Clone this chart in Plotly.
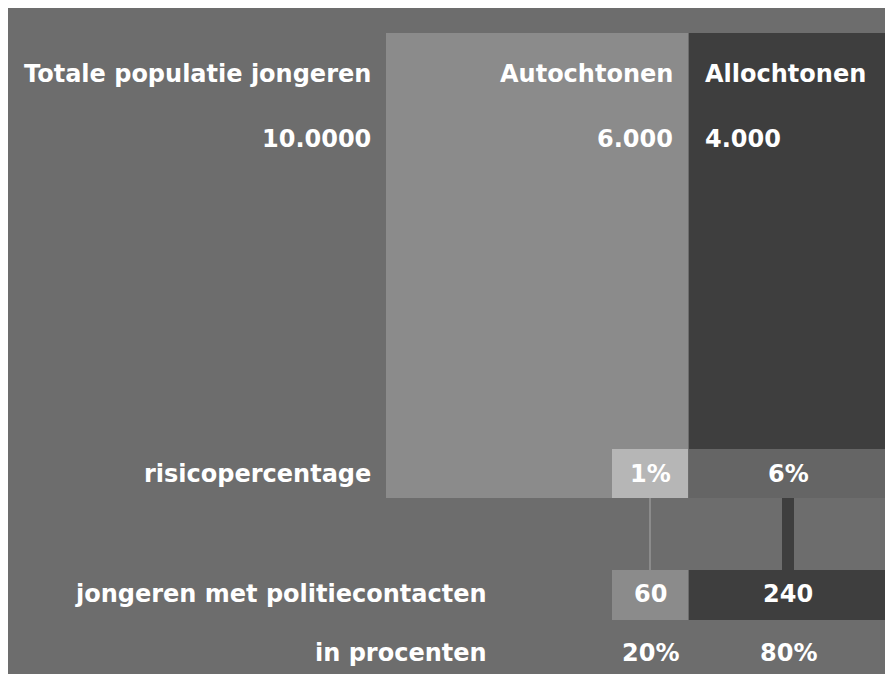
import plotly.graph_objects as go

groups = ["Autochtonen", "Allochtonen"]
population = [6000, 4000]
total_label = "10.0000"
risk_pct = [1, 6]
contacts = [60, 240]
contact_share = [20, 80]

row_labels = ["Totale populatie jongeren", "risicopercentage",
              "jongeren met politiecontacten", "in procenten"]

BG = "#6d6d6d"
LIGHT = "#8b8b8b"
DARK = "#3e3e3e"
PALE = "#b6b6b6"
MID = "#656565"
FONT = dict(family="DejaVu Sans, sans-serif", size=24, color="white", weight="bold")

# the page adds an 8px body margin, so the figure starts at screen (8, 8)
OFF = 8
W, H = 893 - OFF, 674 - OFF
X0_PX = 386          # screen pixel where population axis starts
PX_PER_UNIT = 503 / sum(population)


def ux(px):
    # screen pixel -> population units on x axis
    return (px - X0_PX) / PX_PER_UNIT


def fmt(v):
    return f"{v:,}".replace(",", ".")


# layout rows (screen pixels)
TOP = 33
RISK_TOP, RISK_BOT = 449, 498
CONT_TOP, CONT_BOT = 570, 620
SMALL_W = 1500
GAP = 1 / PX_PER_UNIT

left_edges = [0, population[0]]
centers = [left_edges[i] + population[i] / 2 for i in range(2)]

fig = go.Figure()

# big population blocks
fig.add_trace(go.Bar(
    x=[centers[0], centers[1] + GAP / 2],
    width=[population[0], population[1] - GAP],
    base=[TOP, TOP],
    y=[RISK_BOT - TOP, RISK_TOP - TOP],
    marker=dict(color=[LIGHT, DARK], line_width=0),
    hoverinfo="skip"))

# risk row
small_c = population[0] - SMALL_W / 2
fig.add_trace(go.Bar(
    x=[small_c, centers[1] + GAP / 2],
    width=[SMALL_W, population[1] - GAP],
    base=[RISK_TOP, RISK_TOP],
    y=[RISK_BOT - RISK_TOP] * 2,
    marker=dict(color=[PALE, MID], line_width=0),
    hoverinfo="skip"))

# connectors
fig.add_trace(go.Bar(
    x=[small_c - 0.5 * GAP, centers[1]],
    width=[2 * GAP, 12 * GAP],
    base=[RISK_BOT, RISK_BOT],
    y=[CONT_TOP - RISK_BOT] * 2,
    marker=dict(color=[LIGHT, DARK], line_width=0),
    hoverinfo="skip"))

# contacts row
fig.add_trace(go.Bar(
    x=[small_c, centers[1] + GAP / 2],
    width=[SMALL_W, population[1] - GAP],
    base=[CONT_TOP, CONT_TOP],
    y=[CONT_BOT - CONT_TOP] * 2,
    marker=dict(color=[LIGHT, DARK], line_width=0),
    hoverinfo="skip"))

ann = []


def text(x, y, s, anchor, xshift=0):
    # compensate plotly's annotation padding
    pad = {"right": 2, "left": -2, "center": 0}[anchor]
    ann.append(dict(x=x, y=y, text=s, xref="x", yref="y", showarrow=False,
                    xanchor=anchor, yanchor="middle", xshift=xshift + pad, font=FONT))


row_y = [74, 139, 474, 594, 653]
text(ux(371), row_y[0], row_labels[0], "right")
text(ux(371), row_y[1], total_label, "right")
text(population[0], row_y[0], groups[0], "right", -15)
text(population[0], row_y[0], groups[1], "left", 17)
text(population[0], row_y[1], fmt(population[0]), "right", -15)
text(population[0], row_y[1], fmt(population[1]), "left", 17)
text(ux(371), row_y[2], row_labels[1], "right")
text(small_c, row_y[2], f"{risk_pct[0]}%", "center")
text(centers[1], row_y[2], f"{risk_pct[1]}%", "center")
text(ux(487), row_y[3], row_labels[2], "right")
text(small_c, row_y[3], str(contacts[0]), "center")
text(centers[1], row_y[3], str(contacts[1]), "center")
text(ux(487), row_y[4], row_labels[3], "right")
text(small_c, row_y[4], f"{contact_share[0]}%", "center")
text(centers[1], row_y[4], f"{contact_share[1]}%", "center")

fig.update_layout(
    width=W, height=H,
    margin=dict(l=0, t=0, r=0, b=0),
    paper_bgcolor=BG, plot_bgcolor=BG,
    showlegend=False, bargap=0, barmode="overlay",
    annotations=ann,
    xaxis=dict(range=[ux(OFF), ux(OFF + W)], visible=False, fixedrange=True),
    yaxis=dict(range=[OFF + H, OFF], visible=False, fixedrange=True),
)

fig.write_html("out.html")
